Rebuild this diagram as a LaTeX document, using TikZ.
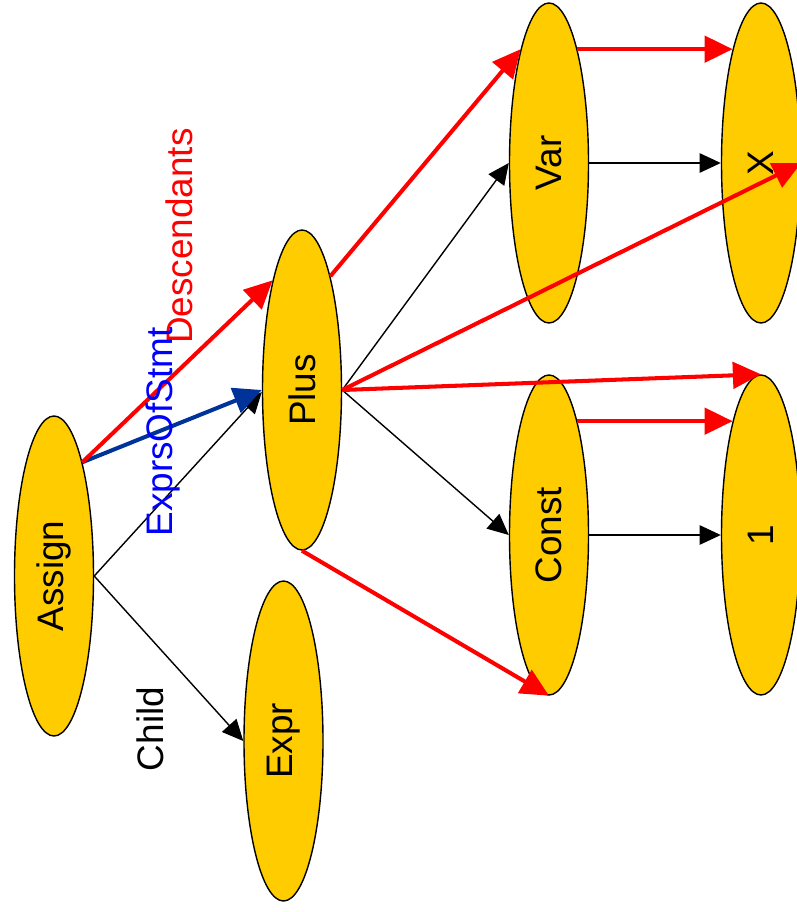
\documentclass[tikz,border=0pt]{standalone}
\usepackage{fontspec}
\setmainfont{Liberation Sans}
\usepackage{tikz}
\usetikzlibrary{arrows.meta}
\usetikzlibrary{shapes}
\definecolor{NodeYellow}{HTML}{FFCC00}
\definecolor{EdgeBlue}{HTML}{003399}
\definecolor{LabelBlue}{HTML}{0000FF}
\tikzstyle{TreeNode}=[ellipse, draw=black, thick, fill=NodeYellow, minimum width=1.58cm, minimum height=6.4cm, inner sep=0pt, font=\fontsize{21}{25}\selectfont]
\tikzstyle{EdgeLabel}=[rotate=90, inner sep=0pt, font=\fontsize{21}{25}\selectfont]
\tikzstyle{ChildEdge}=[-{Triangle[length=12pt, width=11pt]}, line width=0.8pt]
\tikzstyle{DescEdge}=[-{Triangle[length=16pt, width=15pt]}, line width=2.3pt, red]
\tikzstyle{ExprEdge}=[DescEdge, EdgeBlue]

\begin{document}
\begin{tikzpicture}
\useasboundingbox (0,0) rectangle (15.92,-18.24);

\node[TreeNode](Assign) at (1.08,-11.52) {\rotatebox{90}{Assign}};
\node[TreeNode](Plus) at (6.04,-7.80) {\rotatebox{90}{Plus}};
\node[TreeNode](Expr) at (5.67,-14.82) {\rotatebox{90}{Expr}};
\node[TreeNode](Var) at (10.98,-3.26) {\rotatebox{90}{Var}};
\node[TreeNode](Const) at (10.98,-10.70) {\rotatebox{90}{Const}};
\node[TreeNode](X) at (15.22,-3.26) {\rotatebox{90}{X}};
\node[TreeNode](One) at (15.22,-10.70) {\rotatebox{90}{1}};

\draw[ChildEdge](Assign.east) -- (Plus.183);
\draw[ChildEdge](Assign.east) -- (Expr.west);
\draw[ChildEdge](Plus.east) -- (Var.west);
\draw[ChildEdge](Plus.east) -- (Const.west);
\draw[ChildEdge](Var.east) -- (X.west);
\draw[ChildEdge](Const.east) -- (One.west);

\draw[ExprEdge](Assign.76) -- (Plus.west);

\draw[DescEdge](Assign.76) -- (Plus.105);
\draw[DescEdge](Plus.76) -- (Var.104);
\draw[DescEdge](Plus.east) -- (X.east);
\draw[DescEdge](Plus.east) -- (One.north);
\draw[DescEdge](Plus.south) -- (Const.south);
\draw[DescEdge](Var.76) -- (X.104);
\draw[DescEdge](Const.76) -- (One.104);

\node[EdgeLabel, text=red](DescLabel) at (3.58,-4.72) {Descendants};
\node[EdgeLabel, text=LabelBlue](ExprLabel) at (3.26,-8.64) {ExprsOfStmt};
\node[EdgeLabel](ChildLabel) at (3.00,-14.58) {Child};

\end{tikzpicture}
\end{document}
